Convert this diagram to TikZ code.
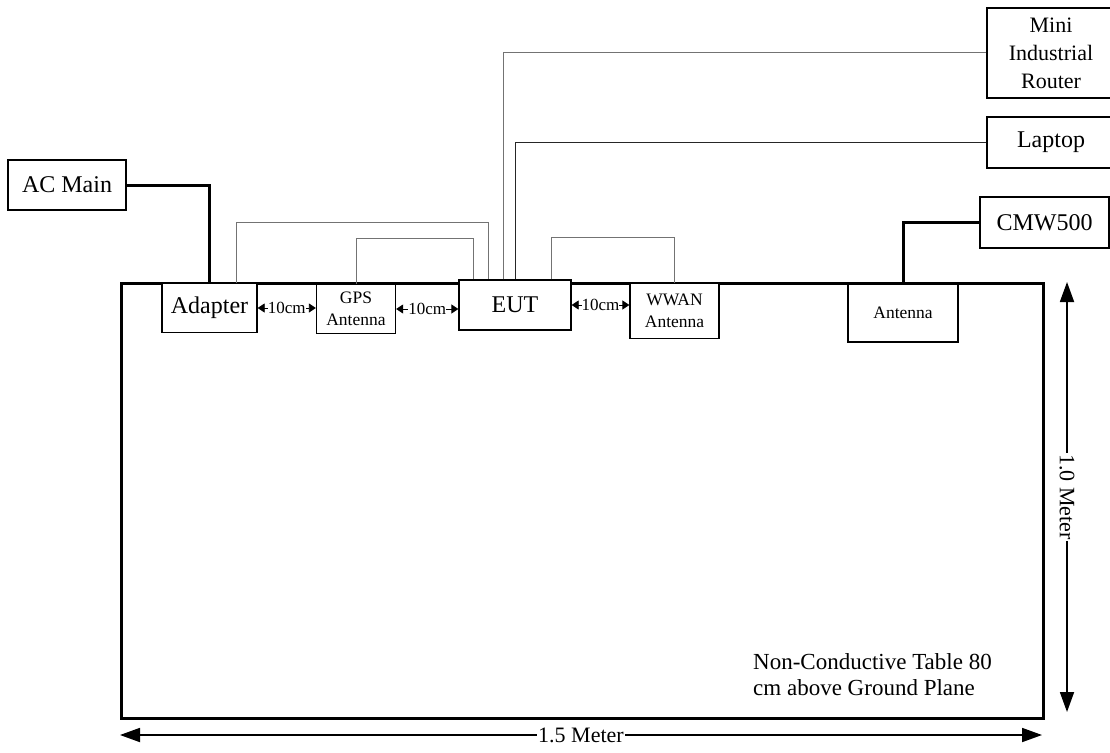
\documentclass[tikz,border=0pt]{standalone}
\usepackage{fontspec}
\setmainfont{Liberation Serif}
\usetikzlibrary{arrows.meta,calc}
\begin{document}
\begin{tikzpicture}[x=1pt,y=-1pt,
  box/.style={draw=black,line width=1.3pt,fill=white,inner sep=0pt,
    font=\fontsize{24}{28}\selectfont,align=center},
  smallbox/.style={box,font=\fontsize{17.5}{22}\selectfont},
  thick line/.style={line width=3pt},
  wire/.style={line width=1pt,black!55},
  darkwire/.style={line width=1pt,black!85},
  gap/.style={line width=0.8pt,{Triangle[length=7pt,width=9pt]}-{Triangle[length=7pt,width=9pt]}},
  gaplabel/.style={fill=white,inner xsep=0pt,inner ysep=1pt,font=\fontsize{17}{19}\selectfont},
  dim/.style={line width=1.8pt,{Triangle[length=20pt,width=14pt]}-{Triangle[length=20pt,width=14pt]}},
  dimlabel/.style={fill=white,inner sep=1pt,font=\fontsize{22}{25}\selectfont}]
\useasboundingbox (0,0) rectangle (1110,752);
% table
\node[draw,line width=3pt,minimum width=922pt,minimum height=435pt,anchor=north west,inner sep=0pt] (table) at (120,282) {};
% boxes
\node[box,minimum width=118pt,minimum height=50pt] (acmain) at (67,185) {AC Main};
\node[box,minimum width=95pt,minimum height=49pt] (adapter) at (209.5,308) {Adapter};
\node[smallbox,minimum width=79pt,minimum height=49pt] (gps) at (356,309) {GPS\\Antenna};
\node[box,minimum width=112pt,minimum height=50pt] (eut) at (515,305) {EUT};
\node[smallbox,minimum width=89pt,minimum height=55pt] (wwan) at (674.5,311) {WWAN\\Antenna};
\node[smallbox,minimum width=110pt,minimum height=58pt] (antenna) at (903,313) {Antenna};
\node[box,minimum width=128pt,minimum height=90pt,font=\fontsize{22}{28}\selectfont] (mini) at (1051,53) {Mini\\Industrial\\Router};
\node[box,minimum width=128pt,minimum height=51pt] (laptop) at (1051,142.5) {Laptop};
\node[box,minimum width=129pt,minimum height=51pt] (cmw) at (1044.5,222.5) {CMW500};
% connectors
\draw[thick line] (acmain.east) -| (adapter.north);
\draw[thick line] (cmw.west) -| (antenna.north);
\draw[wire] ([xshift=75pt]adapter.north west) -- ++(0,-60) -| ([xshift=30pt]eut.north west);
\draw[wire] (gps.north) -- ++(0,-45) -| ([xshift=15pt]eut.north west);
\draw[wire] ([xshift=45pt]eut.north west) |- (mini.west);
\draw[darkwire] ([xshift=57pt]eut.north west) |- (laptop.west);
\draw[wire] ([xshift=93pt]eut.north west) -- ++(0,-42) -| (wwan.north);
% 10cm gaps
\draw[gap] (adapter.east) -- node[gaplabel] {10cm} (adapter.east -| gps.west);
\draw[gap] (gps.east) -- node[gaplabel] {10cm} (gps.east -| eut.west);
\draw[gap] (eut.east) -- node[gaplabel] {10cm} (eut.east -| wwan.west);
% dimensions
\coordinate (hl) at (120,735);
\coordinate (hr) at (1042,735);
\draw[dim] (hl) -- node[dimlabel] {1.5 Meter} (hr);
\coordinate (vt) at (1067,282);
\coordinate (vb) at (1067,712);
\draw[dim] (vt) -- node[dimlabel,rotate=-90] {1.0 Meter} (vb);
% note
\node[anchor=north west,align=left,inner sep=0pt,font=\fontsize{23}{26}\selectfont] (note) at (753,653) {Non-Conductive Table 80\\cm above Ground Plane};
\end{tikzpicture}
\end{document}
